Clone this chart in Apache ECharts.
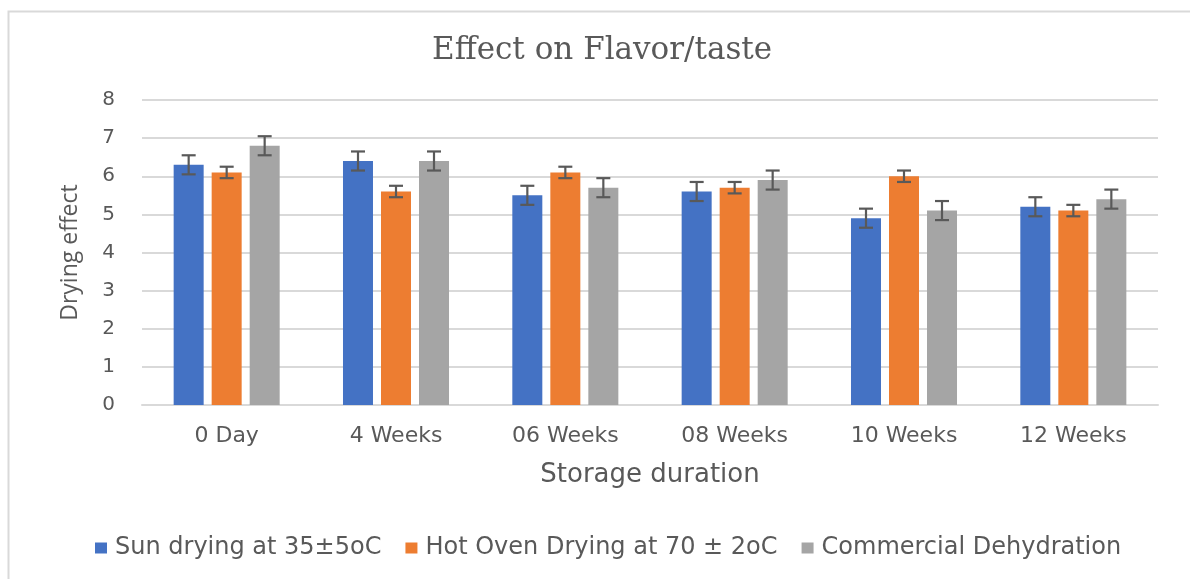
<!DOCTYPE html>
<html>
<head>
<meta charset="utf-8">
<script src="https://cdn.jsdelivr.net/npm/echarts@6/dist/echarts.min.js"></script>
<style>
  html, body { margin: 0; padding: 0; background: #fff; }
  #chart { width: 1190px; height: 579px; }
</style>
</head>
<body>
<div id="chart"></div>
<script>
const categories = ['0 Day', '4 Weeks', '06 Weeks', '08 Weeks', '10 Weeks', '12 Weeks']
const seriesNames = ['Sun drying at 35±5oC', 'Hot Oven Drying at 70 ± 2oC', 'Commercial Dehydration']

const sunMeans = [6.3, 6.4, 5.5, 5.6, 4.9, 5.2]
const ovenMeans = [6.1, 5.6, 6.1, 5.7, 6.0, 5.1]
const commMeans = [6.8, 6.4, 5.7, 5.9, 5.1, 5.4]

const sunErr = [0.25, 0.25, 0.25, 0.25, 0.25, 0.25]
const ovenErr = [0.15, 0.15, 0.15, 0.15, 0.15, 0.15]
const commErr = [0.25, 0.25, 0.25, 0.25, 0.25, 0.25]

const yTicks = [0, 1, 2, 3, 4, 5, 6, 7, 8]

const COLORS = ['#4472C4', '#ED7D31', '#A5A5A5']
const TEXT = '#595959'
const GRID_LINE = '#d9d9d9'
const FONT = 'DejaVu Sans'
const BAR_W = 30
const BAR_GAP = 8

const chart = echarts.init(document.getElementById('chart'), null, { renderer: 'canvas' })

function errorRender(offset) {
    return function (params, api) {
        const x = api.value(0)
        const mean = api.value(1)
        const e = api.value(2)
        const hi = api.coord([x, mean + e])
        const lo = api.coord([x, mean - e])
        const cx = hi[0] + offset
        const cap = 7
        const style = { stroke: '#595959', lineWidth: 2.2 }
        return {
            type: 'group',
            children: [
                { type: 'line', shape: { x1: cx, y1: hi[1], x2: cx, y2: lo[1] }, style },
                { type: 'line', shape: { x1: cx - cap, y1: hi[1], x2: cx + cap, y2: hi[1] }, style },
                { type: 'line', shape: { x1: cx - cap, y1: lo[1], x2: cx + cap, y2: lo[1] }, style }
            ]
        }
    }
}

const means = [sunMeans, ovenMeans, commMeans]
const errs = [sunErr, ovenErr, commErr]

const barSeries = means.map((vals, i) => ({
    name: seriesNames[i],
    type: 'bar',
    data: vals,
    barWidth: BAR_W,
    barGap: (BAR_GAP / BAR_W * 100).toFixed(1) + '%',
    itemStyle: { color: COLORS[i] },
    emphasis: { disabled: true }
}))

const errSeries = means.map((vals, i) => ({
    type: 'custom',
    renderItem: errorRender((i - 1) * (BAR_W + BAR_GAP)),
    data: vals.map((v, j) => [j, v, errs[i][j]]),
    z: 10,
    silent: true
}))

chart.setOption({
    backgroundColor: '#fff',
    animation: false,
    title: {
        text: 'Effect on Flavor/taste',
        left: 427,
        top: 30,
        textStyle: {
            fontFamily: 'DejaVu Serif',
            fontWeight: 'normal',
            fontSize: 31,
            color: TEXT
        }
    },
    legend: {
        data: seriesNames,
        left: 90,
        top: 531,
        icon: 'rect',
        itemWidth: 12,
        itemHeight: 11,
        itemGap: 24,
        textStyle: {
            fontFamily: FONT,
            fontSize: 24,
            color: TEXT,
            padding: [0, 0, 0, 3]
        }
    },
    grid: {
        left: 142,
        right: 32,
        top: 100,
        bottom: 174,
        containLabel: false
    },
    xAxis: {
        type: 'category',
        data: categories,
        name: 'Storage duration',
        nameLocation: 'middle',
        nameGap: 57,
        nameTextStyle: { fontFamily: FONT, fontSize: 26, color: TEXT },
        axisLine: { lineStyle: { color: GRID_LINE, width: 2 } },
        axisTick: { show: false },
        axisLabel: { fontFamily: FONT, fontSize: 22, color: TEXT, margin: 20 }
    },
    yAxis: {
        type: 'value',
        min: yTicks[0],
        max: yTicks[yTicks.length - 1],
        interval: 1,
        name: 'Drying effect',
        nameLocation: 'middle',
        nameRotate: 90,
        nameGap: 60,
        nameTextStyle: { fontFamily: 'Open Sans', fontSize: 23, color: TEXT },
        axisLine: { show: false },
        axisTick: { show: false },
        axisLabel: { fontFamily: FONT, fontSize: 20, color: TEXT, margin: 27 },
        splitLine: { lineStyle: { color: GRID_LINE, width: 2 } }
    },
    graphic: [{
        type: 'rect',
        left: 6,
        top: 9,
        shape: { width: 1300, height: 700 },
        style: { fill: 'none', stroke: GRID_LINE, lineWidth: 2 },
        silent: true
    }],
    series: [...barSeries, ...errSeries]
})
</script>
</body>
</html>
